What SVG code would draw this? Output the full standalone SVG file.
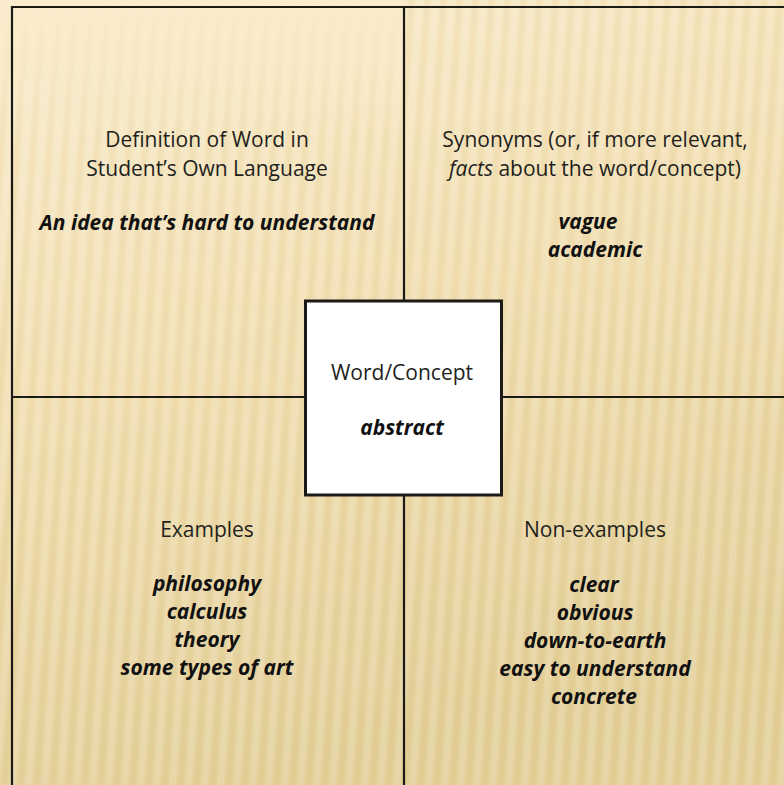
<svg xmlns="http://www.w3.org/2000/svg" width="784" height="785" viewBox="0 0 784 785">
<style>
.lbl{font-family:"Open Sans","Liberation Sans",sans-serif;font-size:21px;fill:#231f1c;text-anchor:middle}
.val{font-family:"Open Sans","Liberation Sans",sans-serif;font-size:21px;font-weight:bold;font-style:italic;fill:#111;text-anchor:middle}
.line{stroke:#1c1a17;stroke-width:2.2;fill:none}
</style>
<defs>
<linearGradient id="bg" x1="0" y1="0" x2="0.3" y2="1">
<stop offset="0" stop-color="#f9ebcb"/>
<stop offset="0.5" stop-color="#f1deb0"/>
<stop offset="1" stop-color="#e3cf98"/>
</linearGradient>
<pattern id="stripes" width="16" height="785" patternUnits="userSpaceOnUse" patternTransform="skewX(-4)">
<rect x="0" y="0" width="7" height="785" fill="#ffffff" opacity="0.15"/>
<rect x="9" y="0" width="5" height="785" fill="#b89a55" opacity="0.06"/>
</pattern>
<linearGradient id="topfade" x1="0" y1="0" x2="0" y2="1">
<stop offset="0" stop-color="#f9ebcb" stop-opacity="1"/>
<stop offset="1" stop-color="#f9ebcb" stop-opacity="0"/>
</linearGradient>
</defs>
<rect width="784" height="785" fill="url(#bg)"/>
<rect x="0" y="0" width="784" height="785" fill="url(#stripes)"/>
<rect x="0" y="0" width="404" height="140" fill="url(#topfade)"/>
<g id="connectors">
<line class="line" x1="12" y1="7" x2="784" y2="7"/>
<line class="line" x1="12" y1="6" x2="12" y2="785"/>
<line class="line" x1="404" y1="7" x2="404" y2="785"/>
<line class="line" x1="12" y1="397" x2="784" y2="397"/>
</g>
<g id="definition">
<text class="lbl" x="207" y="147">Definition of Word in</text>
<text class="lbl" x="207" y="176">Student’s Own Language</text>
<text class="val" x="207" y="230">An idea that’s hard to understand</text>
</g>
<g id="synonyms">
<text class="lbl" x="595" y="147">Synonyms (or, if more relevant,</text>
<text class="lbl" x="595" y="176"><tspan font-style="italic">facts</tspan> about the word/concept)</text>
<text class="val" x="588" y="229">vague</text>
<text class="val" x="595" y="257">academic</text>
</g>
<g id="examples">
<text class="lbl" x="207" y="537">Examples</text>
<text class="val" x="207" y="591">philosophy</text>
<text class="val" x="207" y="619">calculus</text>
<text class="val" x="207" y="647">theory</text>
<text class="val" x="207" y="675">some types of art</text>
</g>
<g id="nonexamples">
<text class="lbl" x="595" y="537">Non-examples</text>
<text class="val" x="594" y="592">clear</text>
<text class="val" x="595" y="620">obvious</text>
<text class="val" x="595" y="648">down-to-earth</text>
<text class="val" x="595" y="676">easy to understand</text>
<text class="val" x="594" y="704">concrete</text>
</g>
<g id="concept">
<rect x="305.5" y="301" width="196" height="194" fill="#ffffff" stroke="#1c1a17" stroke-width="3"/>
<text class="lbl" x="402" y="380">Word/Concept</text>
<text class="val" x="402" y="435">abstract</text>
</g>
</svg>
